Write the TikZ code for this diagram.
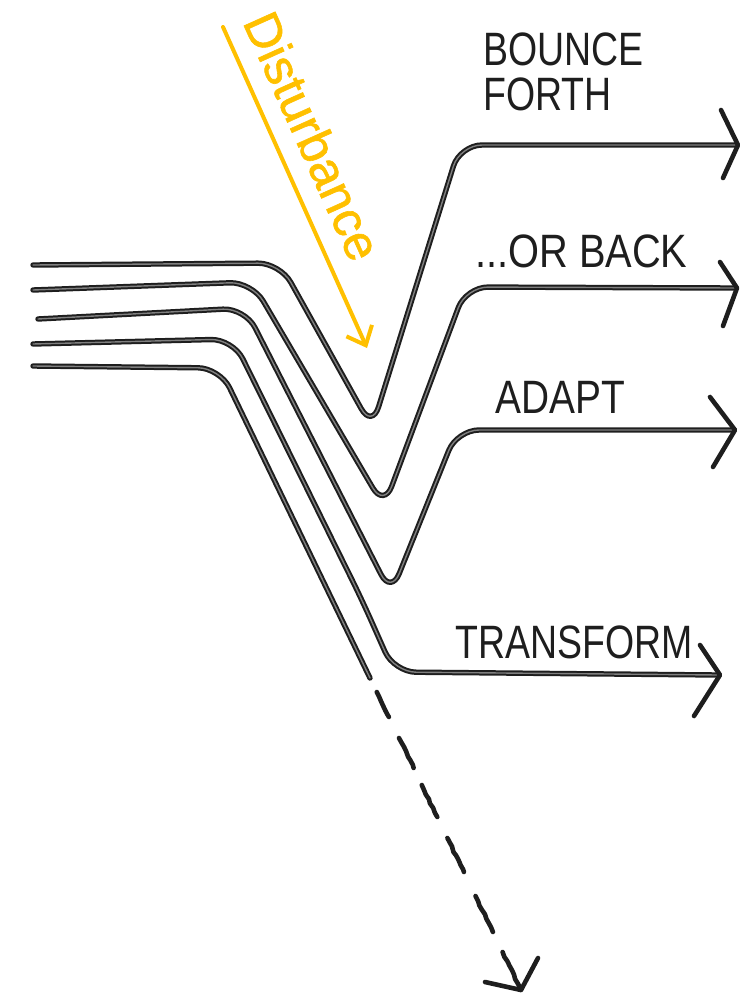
\documentclass[tikz,border=0pt]{standalone}
\usepackage{fontspec}
\usepackage{graphicx}
\setmainfont{Liberation Sans}
\newfontfamily\distfont{Liberation Sans}[FakeBold=1.2]
\usetikzlibrary{arrows.meta,decorations.pathmorphing}
\definecolor{amber}{RGB}{255,192,0}
\definecolor{ink}{RGB}{30,30,30}
\begin{document}
\begin{tikzpicture}[x=1bp,y=-1bp,
  flow/.style={draw=ink, line width=2bp, double=black!50, double distance=1.4bp,
    line cap=round, line join=round, rounded corners=22bp},
  barb/.style={draw=ink, line width=4.6bp, line cap=round, line join=round},
  dashpiece/.style={draw=ink, line width=4.6bp, line cap=round, line join=round,
    decorate, decoration={random steps, segment length=5bp, amplitude=0.8bp}},
  hand/.style={anchor=base west, inner sep=0pt, text=ink, font=\fontsize{47}{47}\selectfont},
  disturb/.style={text=amber, inner sep=0pt, font=\distfont\fontsize{50}{50}\selectfont}]
\pgfmathsetseed{11}
\useasboundingbox (0,0) rectangle (740,997);

% ---- line 1 : bounce forth
\draw[flow] (33,265) -- (280,263) -- (372,428) -- (460,145) -- (736,145);
\coordinate (t1) at (738,145);
\draw[barb] (721,110) -- (t1) -- (723,178);

% ---- line 2 : or back
\draw[flow] (33,290) -- (252,282) -- (384,507) -- (466,287) -- (735,288);
\coordinate (t2) at (737,288);
\draw[barb] (720,262) -- (t2) -- (723,326);

% ---- line 3 : adapt
\draw[flow] (38,319) -- (245,308) -- (391,594) -- (457,430) -- (733,430);
\coordinate (t3) at (735,430);
\draw[barb] (710,397) -- (t3) -- (713,467);

% ---- line 4 : transform
\draw[flow] (33,344) -- (233,339) -- (362,600) -- (394,672) -- (718,675);
\coordinate (t4) at (720,675);
\draw[barb] (700,645) -- (t4) -- (694,716);

% ---- line 5 : collapse (dashed)
\draw[flow] (33,366) -- (220,368) -- (370,678);
\draw[dashpiece] (376.8,692) -- (388.9,717);
\draw[dashpiece] (399,738) -- (413.6,768);
\draw[dashpiece] (421.8,785) -- (437.3,817);
\draw[dashpiece] (447.4,838) -- (463.9,872);
\draw[dashpiece] (475.5,896) -- (492.9,932);
\coordinate (t5) at (521,990);
\draw[dashpiece] (502.6,952) -- (t5);
\draw[barb] (485,982) -- (t5) -- (538,958);

% ---- disturbance arrow
\coordinate (ds) at (223,27);
\coordinate (de) at (367,348);
\draw[amber, line width=4bp, line cap=round,
  -{Straight Barb[length=16bp, width=28bp]}] (ds) -- (de);
\node[disturb, rotate=-65.8] (dist) at (313,136) {Disturbance};

% ---- labels
\node[hand] (l1a) at (483,65) {\scalebox{0.8}[1]{BOUNCE}};
\node[hand] (l1b) at (483,110) {\scalebox{0.8}[1]{FORTH}};
\node[hand] (l2) at (475,267) {\scalebox{0.85}[1]{...OR BACK}};
\node[hand] (l3) at (495,413) {\scalebox{0.83}[1]{ADAPT}};
\node[hand] (l4) at (455,658) {\scalebox{0.8}[1]{TRANSFORM}};
\end{tikzpicture}
\end{document}
